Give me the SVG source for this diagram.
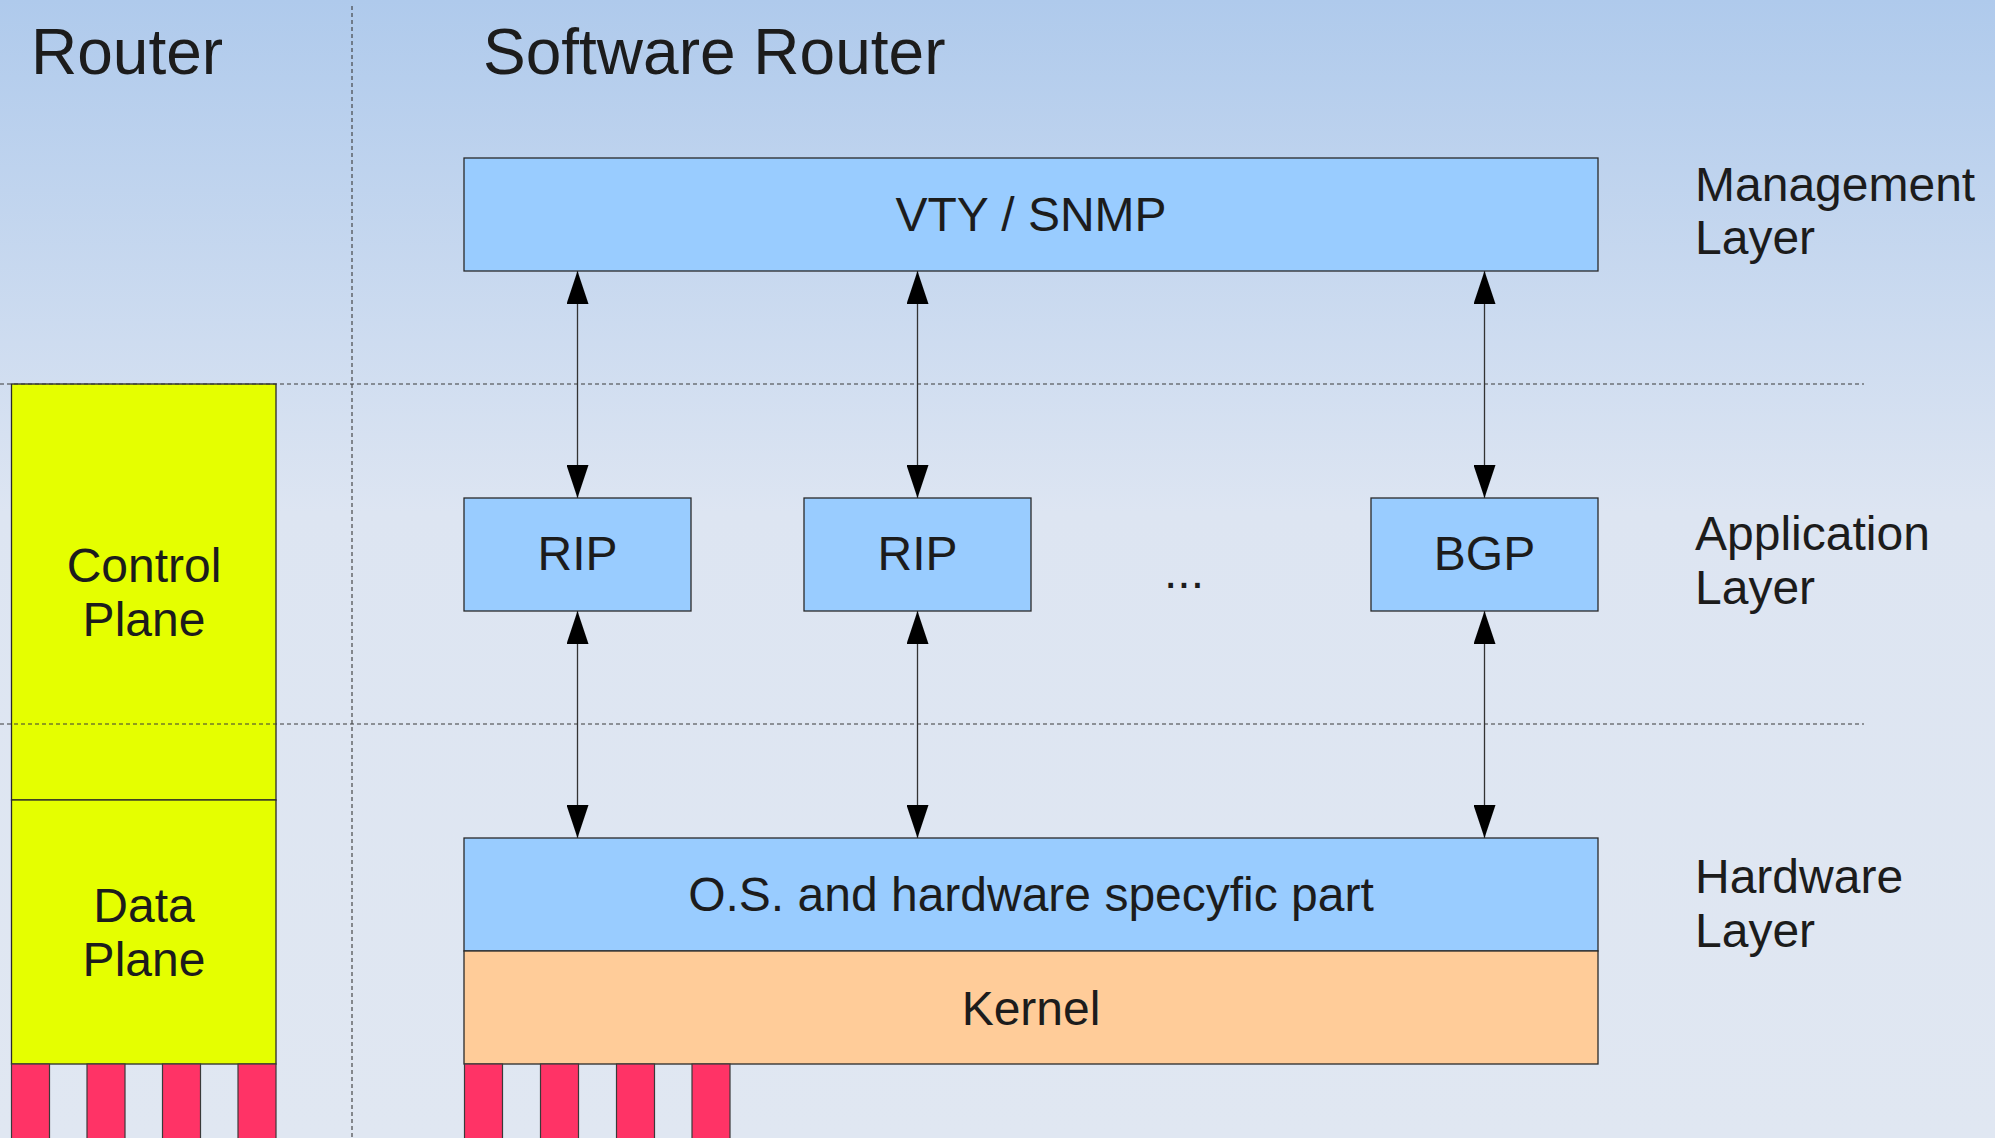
<svg xmlns="http://www.w3.org/2000/svg" width="1995" height="1138" viewBox="0 0 1995 1138">
<defs>
<linearGradient id="bg" x1="0" y1="0" x2="0" y2="1">
<stop offset="0" stop-color="#afcaec"/>
<stop offset="0.45" stop-color="#dde5f2"/>
<stop offset="1" stop-color="#e0e7f2"/>
</linearGradient>
<marker id="ah" viewBox="0 0 33 22" refX="33" refY="11" markerWidth="33" markerHeight="22" markerUnits="userSpaceOnUse" orient="auto-start-reverse">
<path d="M0,0 L33,11 L0,22 z" fill="#000"/>
</marker>
<style>
.t{font-family:"Liberation Sans",Arial,sans-serif;fill:#1c1c1c}
.big{font-size:64px}
.mid{font-size:48px}
.c{text-anchor:middle}
.blue{fill:#99ccff;stroke:#2a2a2a;stroke-width:1.3}
.kern{fill:#ffcc99;stroke:#2a2a2a;stroke-width:1.3}
.yel{fill:#e5ff00;stroke:#2a2a2a;stroke-width:1.3}
.port{fill:#ff3366;stroke:#3a3a3a;stroke-width:1.2}
.dash{stroke:#3a3a3a;stroke-width:1.1;stroke-dasharray:4 3;fill:none}
.conn{stroke:#333;stroke-width:1.3;fill:none;marker-start:url(#ah);marker-end:url(#ah)}
</style>
</defs>
<rect x="0" y="0" width="1995" height="1138" fill="url(#bg)"/>

<g id="titles">
<text class="t big" x="31" y="74">Router</text>
<text class="t big" x="483" y="74">Software Router</text>
</g>

<g id="router-control-plane">
<rect class="yel" x="11.5" y="384" width="264.5" height="416"/>
<text class="t mid c" x="144" y="582">Control</text>
<text class="t mid c" x="144" y="636">Plane</text>
</g>
<g id="router-data-plane">
<rect class="yel" x="11.5" y="800" width="264.5" height="264"/>
<text class="t mid c" x="144" y="922">Data</text>
<text class="t mid c" x="144" y="976">Plane</text>
</g>
<g id="router-ports">
<rect class="port" x="11.5" y="1064" width="38" height="80"/>
<rect class="port" x="87" y="1064" width="38" height="80"/>
<rect class="port" x="162.5" y="1064" width="38" height="80"/>
<rect class="port" x="238" y="1064" width="38" height="80"/>
</g>

<g id="guides">
<line class="dash" x1="352" y1="6" x2="352" y2="1138"/>
<line class="dash" x1="0" y1="384" x2="1864" y2="384"/>
<line class="dash" x1="0" y1="724" x2="1864" y2="724"/>
</g>

<g id="vty-snmp">
<rect class="blue" x="464" y="158" width="1134" height="113"/>
<text class="t mid c" x="1031" y="231">VTY / SNMP</text>
</g>
<g id="rip1">
<rect class="blue" x="464" y="498" width="227" height="113"/>
<text class="t mid c" x="577.5" y="570">RIP</text>
</g>
<g id="rip2">
<rect class="blue" x="804" y="498" width="227" height="113"/>
<text class="t mid c" x="917.5" y="570">RIP</text>
</g>
<g id="dots">
<text class="t mid c" x="1184" y="588">...</text>
</g>
<g id="bgp">
<rect class="blue" x="1371" y="498" width="227" height="113"/>
<text class="t mid c" x="1484.5" y="570">BGP</text>
</g>
<g id="os-part">
<rect class="blue" x="464" y="838" width="1134" height="113"/>
<text class="t mid c" x="1031" y="911">O.S. and hardware specyfic part</text>
</g>
<g id="kernel">
<rect class="kern" x="464" y="951" width="1134" height="113"/>
<text class="t mid c" x="1031" y="1025">Kernel</text>
</g>
<g id="sw-ports">
<rect class="port" x="464.5" y="1064" width="38" height="80"/>
<rect class="port" x="540.5" y="1064" width="38" height="80"/>
<rect class="port" x="616.5" y="1064" width="38" height="80"/>
<rect class="port" x="692" y="1064" width="38" height="80"/>
</g>

<g id="layer-labels">
<text class="t mid" x="1695" y="201">Management</text>
<text class="t mid" x="1695" y="254">Layer</text>
<text class="t mid" x="1695" y="550">Application</text>
<text class="t mid" x="1695" y="604">Layer</text>
<text class="t mid" x="1695" y="893">Hardware</text>
<text class="t mid" x="1695" y="947">Layer</text>
</g>

<g id="connectors">
<line class="conn" x1="577.5" y1="271" x2="577.5" y2="498"/>
<line class="conn" x1="917.5" y1="271" x2="917.5" y2="498"/>
<line class="conn" x1="1484.5" y1="271" x2="1484.5" y2="498"/>
<line class="conn" x1="577.5" y1="611" x2="577.5" y2="838"/>
<line class="conn" x1="917.5" y1="611" x2="917.5" y2="838"/>
<line class="conn" x1="1484.5" y1="611" x2="1484.5" y2="838"/>
</g>
</svg>
